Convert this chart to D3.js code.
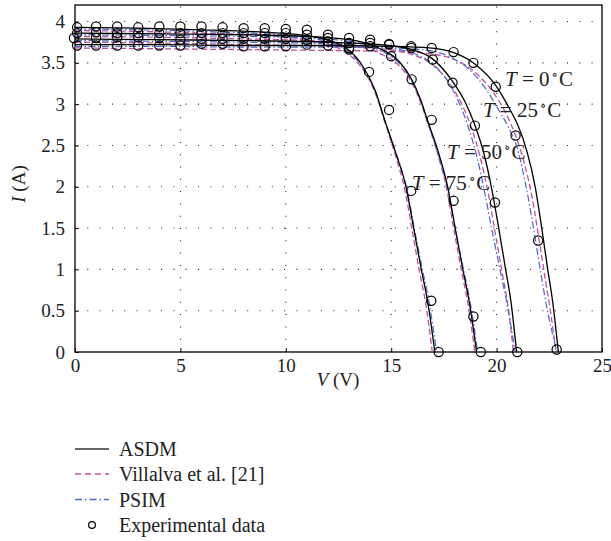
<!DOCTYPE html>
<html><head><meta charset="utf-8">
<script src="https://cdn.jsdelivr.net/npm/d3@7"></script>
<style>
html,body{margin:0;padding:0;background:#fff;}
svg{display:block;font-family:"Liberation Serif","DejaVu Serif",serif;}
</style></head>
<body><svg id="c" width="611" height="541"></svg>
<script>
// ---- data (V in volts, I in amperes) ----
const xTicks = [0, 5, 10, 15, 20, 25];
const yTicks = [0, 0.5, 1, 1.5, 2, 2.5, 3, 3.5, 4];
const temperatures = ["0", "25", "50", "75"];
const seriesNames = ["ASDM", "Villalva et al. [21]", "PSIM", "Experimental data"];

const asdmT0 = [[0,3.72],[4,3.72],[8,3.71],[12,3.71],[15,3.70],[16.8,3.68],[18,3.62],[18.95,3.49],[19.95,3.23],[20.6,2.95],[21.0,2.75],[21.45,2.42],[21.83,2.0],[22.17,1.45],[22.42,1.01],[22.66,0.61],[22.93,0]];
const asdmT25 = [[0,3.79],[4,3.78],[8,3.77],[12,3.75],[14.5,3.72],[16,3.66],[16.9,3.56],[17.9,3.28],[18.5,3.03],[18.95,2.76],[19.4,2.4],[19.75,2.0],[20.1,1.5],[20.42,1.01],[20.68,0.61],[20.95,0]];
const asdmT50 = [[0,3.86],[4,3.85],[8,3.84],[11,3.82],[13.3,3.77],[14.4,3.68],[15.4,3.51],[15.95,3.31],[16.4,3.05],[16.75,2.78],[17.2,2.45],[17.68,2.0],[18.07,1.45],[18.39,1.01],[18.7,0.61],[19.05,0]];
const asdmT75 = [[0,3.93],[3,3.92],[6,3.90],[9,3.87],[11,3.83],[11.8,3.79],[12.4,3.74],[12.9,3.67],[13.6,3.48],[14.25,3.16],[14.7,2.8],[15.2,2.42],[15.7,2.0],[16.1,1.45],[16.42,1.01],[16.73,0.61],[17.07,0]];

const villalvaT0 = [[0,3.68],[4,3.67],[8,3.66],[12,3.65],[15,3.64],[16.8,3.61],[18,3.54],[18.95,3.39],[19.9,3.12],[20.5,2.86],[20.9,2.62],[21.3,2.3],[21.7,1.85],[22.05,1.3],[22.33,0.85],[22.55,0.5],[22.82,0]];
const villalvaT25 = [[0,3.75],[4,3.74],[8,3.72],[12,3.70],[14.5,3.67],[16,3.60],[16.9,3.49],[17.8,3.24],[18.35,3.0],[18.8,2.72],[19.2,2.38],[19.58,1.95],[19.95,1.42],[20.27,0.95],[20.53,0.57],[20.8,0]];
const villalvaT50 = [[0,3.82],[4,3.81],[8,3.79],[11,3.77],[13.3,3.71],[14.4,3.62],[15.4,3.46],[15.95,3.27],[16.4,3.02],[16.75,2.76],[17.18,2.42],[17.63,1.98],[18.01,1.43],[18.33,0.99],[18.63,0.6],[18.97,0]];
const villalvaT75 = [[0,3.89],[3,3.88],[6,3.86],[9,3.83],[11,3.78],[11.8,3.74],[12.4,3.69],[12.9,3.62],[13.6,3.44],[14.25,3.13],[14.7,2.78],[15.2,2.38],[15.65,1.96],[16.03,1.42],[16.33,0.99],[16.63,0.6],[16.95,0]];

const psimT0 = [[0,3.70],[4,3.70],[8,3.69],[12,3.69],[15,3.68],[16.8,3.65],[17.8,3.57],[18.7,3.42],[19.5,3.18],[20.1,2.93],[20.6,2.7],[21.0,2.45],[21.4,2.0],[21.75,1.5],[22.1,0.95],[22.45,0.45],[22.87,0]];
const psimT25 = [[0,3.77],[4,3.76],[8,3.75],[12,3.73],[14.5,3.69],[16,3.62],[16.9,3.50],[17.7,3.27],[18.25,3.0],[18.65,2.73],[19.05,2.38],[19.42,1.95],[19.8,1.45],[20.2,0.95],[20.52,0.55],[20.88,0]];
const psimT50 = [[0,3.84],[4,3.83],[8,3.82],[11,3.80],[13.3,3.75],[14.4,3.66],[15.4,3.49],[15.95,3.29],[16.38,3.05],[16.72,2.8],[17.15,2.45],[17.65,2.0],[18.07,1.45],[18.42,1.01],[18.75,0.6],[19.1,0]];
const psimT75 = [[0,3.91],[3,3.90],[6,3.88],[9,3.85],[11,3.81],[11.8,3.77],[12.4,3.72],[12.9,3.65],[13.6,3.46],[14.25,3.15],[14.7,2.8],[15.2,2.43],[15.72,2.0],[16.13,1.45],[16.47,1.01],[16.8,0.6],[17.15,0]];

const expT0 = [[0.1,3.71],[1,3.71],[2,3.71],[3,3.71],[4,3.71],[5,3.71],[6,3.73],[7,3.73],[8,3.70],[9,3.70],[10,3.70],[11,3.72],[12,3.71],[13,3.68],[14,3.70],[14.9,3.73],[15.95,3.70],[16.92,3.68],[17.96,3.63],[18.9,3.50],[19.96,3.21],[20.9,2.62],[21.97,1.35],[22.85,0.03]];
const expT25 = [[-0.05,3.80],[1,3.80],[2,3.81],[3,3.81],[4,3.80],[5,3.78],[6,3.79],[7,3.79],[8,3.79],[9,3.79],[10,3.79],[11,3.78],[12,3.76],[13,3.74],[14,3.74],[14.9,3.72],[15.95,3.68],[16.97,3.54],[17.91,3.26],[18.97,2.74],[19.92,1.81],[20.98,0]];
const expT50 = [[0.1,3.86],[1,3.87],[2,3.86],[3,3.86],[4,3.86],[5,3.86],[6,3.86],[7,3.86],[8,3.86],[9,3.86],[10,3.86],[11,3.84],[12,3.80],[13,3.80],[14,3.78],[15,3.58],[15.97,3.30],[16.92,2.81],[17.96,1.83],[18.9,0.43],[19.25,0]];
const expT75 = [[0.1,3.93],[1,3.94],[2,3.94],[3,3.93],[4,3.94],[5,3.94],[6,3.94],[7,3.93],[8,3.92],[9,3.92],[10,3.91],[11,3.90],[12,3.84],[13,3.66],[13.95,3.39],[14.9,2.93],[15.95,1.95],[16.9,0.62],[17.25,0]];

// label anchor points for temperature annotations (V, I)
const labelPos = [[20.4, 3.22], [19.35, 2.85], [17.65, 2.33], [15.98, 1.96]];

// ---- drawing ----
const svg = d3.select("#c");
const L = 75, R = 602, T = 5, B = 352;
const x = d3.scaleLinear().domain([0, 25]).range([L, R]);
const y = d3.scaleLinear().domain([0, 4.2]).range([B, T]);

const colASDM = "#000", colVil = "#c0509e", colPSIM = "#4a68c8";

// grid
const grid = svg.append("g").attr("stroke", "#222").attr("stroke-width", 1.1).attr("stroke-dasharray", "1,11.3");
xTicks.filter(d => d > 0 && d < 25).forEach(v => {
  grid.append("line").attr("x1", x(v)).attr("x2", x(v)).attr("y1", B).attr("y2", T);
});
yTicks.filter(d => d > 0).forEach(v => {
  grid.append("line").attr("x1", L).attr("x2", R).attr("y1", y(v)).attr("y2", y(v));
});

// axes
const xAxis = d3.axisBottom(x).tickValues(xTicks).tickSize(-4).tickPadding(7).tickFormat(d3.format("d"));
const yAxis = d3.axisLeft(y).tickValues(yTicks).tickSize(-4).tickPadding(10).tickFormat(d => String(d));
const gx = svg.append("g").attr("transform", `translate(0,${B})`).call(xAxis);
const gy = svg.append("g").attr("transform", `translate(${L},0)`).call(yAxis);
[gx, gy].forEach(g => {
  g.select(".domain").remove();
  g.selectAll("text").attr("font-family", "Liberation Serif, serif").attr("font-size", 19).attr("fill", "#222");
  g.selectAll("line").attr("stroke", "#000").attr("stroke-width", 1);
});

// frame
svg.append("rect").attr("x", L).attr("y", T).attr("width", R - L).attr("height", B - T)
  .attr("fill", "none").attr("stroke", "#000").attr("stroke-width", 1.3);

const line = d3.line().x(d => x(d[0])).y(d => y(d[1])).curve(d3.curveMonotoneX);
const plot = svg.append("g");

const vilSeries = [villalvaT0, villalvaT25, villalvaT50, villalvaT75];
const psimSeries = [psimT0, psimT25, psimT50, psimT75];
const asdmSeries = [asdmT0, asdmT25, asdmT50, asdmT75];
const expSeries = [expT0, expT25, expT50, expT75];

vilSeries.forEach(s => plot.append("path").attr("d", line(s)).attr("fill", "none")
  .attr("stroke", colVil).attr("stroke-width", 1.3).attr("stroke-dasharray", "6,3"));
psimSeries.forEach(s => plot.append("path").attr("d", line(s)).attr("fill", "none")
  .attr("stroke", colPSIM).attr("stroke-width", 1.2).attr("stroke-dasharray", "7,2.5,1.5,2.5"));
asdmSeries.forEach(s => plot.append("path").attr("d", line(s)).attr("fill", "none")
  .attr("stroke", colASDM).attr("stroke-width", 1.3));
expSeries.forEach(s => plot.selectAll(null).data(s).enter().append("circle")
  .attr("cx", d => x(d[0])).attr("cy", d => y(d[1])).attr("r", 4.6)
  .attr("fill", "none").attr("stroke", "#000").attr("stroke-width", 1.2));

// temperature labels
temperatures.forEach((t, i) => {
  const p = labelPos[i];
  const tx = svg.append("text").attr("x", x(p[0])).attr("y", y(p[1]))
    .attr("font-size", 21).attr("fill", "#222");
  tx.append("tspan").attr("font-style", "italic").text("T");
  tx.append("tspan").text(" = " + t);
  tx.append("tspan").attr("dx", 2).attr("dy", -7).attr("font-size", 13).text("∘");
  tx.append("tspan").attr("dx", 1).attr("dy", 7).text("C");
});

// axis titles
const xl = svg.append("text").attr("x", 338).attr("y", 386).attr("text-anchor", "middle")
  .attr("font-size", 19).attr("fill", "#222");
xl.append("tspan").attr("font-style", "italic").text("V");
xl.append("tspan").text(" (V)");
const yl = svg.append("text").attr("transform", "translate(25,184) rotate(-90)").attr("text-anchor", "middle")
  .attr("font-size", 19).attr("fill", "#222");
yl.append("tspan").attr("font-style", "italic").text("I");
yl.append("tspan").text(" (A)");

// legend
const leg = svg.append("g");
const legY = [449, 474, 499.5, 525];
const styles = [
  {stroke: "#333", dash: null},
  {stroke: colVil, dash: "6,4"},
  {stroke: colPSIM, dash: "7,3,1.5,3"}
];
seriesNames.forEach((name, i) => {
  if (i < 3) {
    leg.append("line").attr("x1", 75).attr("x2", 109).attr("y1", legY[i]).attr("y2", legY[i])
      .attr("stroke", styles[i].stroke).attr("stroke-width", 1.3)
      .attr("stroke-dasharray", styles[i].dash);
  } else {
    leg.append("circle").attr("cx", 92).attr("cy", legY[i]).attr("r", 3.4)
      .attr("fill", "none").attr("stroke", "#000").attr("stroke-width", 1.2);
  }
  leg.append("text").attr("x", 119).attr("y", legY[i]).attr("dy", "0.35em")
    .attr("font-size", 20).attr("fill", "#222").text(name);
});
</script>
</body></html>
